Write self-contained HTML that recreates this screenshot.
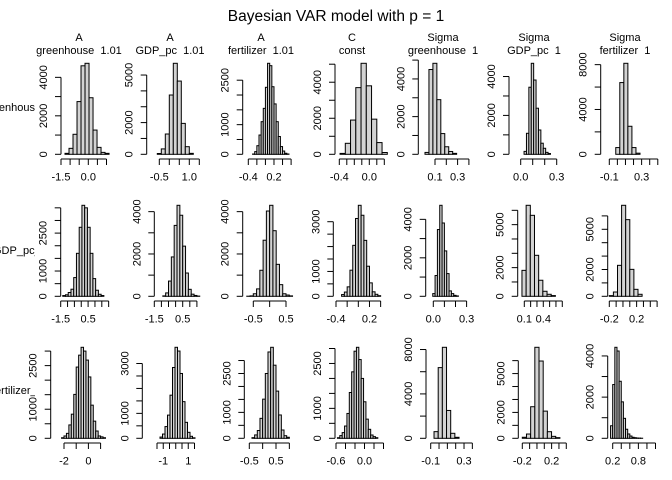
<!DOCTYPE html>
<html><head><meta charset="utf-8"><style>
html,body{margin:0;padding:0;background:#fff;}
svg{display:block;font-family:"Liberation Sans",Arial,sans-serif;}
</style></head><body>
<svg id="chart" width="672" height="480" viewBox="0 0 672 480" xmlns="http://www.w3.org/2000/svg">
<defs><clipPath id="rowclip"><rect x="0" y="0" width="35" height="480"/></clipPath></defs>
<text x="336" y="21" text-anchor="middle" font-size="15.5">Bayesian VAR model with p = 1</text>
<g id="titles"></g>
<g id="rowlabels" clip-path="url(#rowclip)"></g>
<g id="panels"></g>
</svg>
<script>
// ---- data ----
const colTitle1 = ["A","A","A","C","Sigma","Sigma","Sigma"];
const colTitle2 = ["greenhouse\u00a0 1.01","GDP_pc\u00a0 1.01","fertilizer\u00a0 1.01","const","greenhouse\u00a0 1","GDP_pc\u00a0 1","fertilizer\u00a0 1"];
const rowLabels = ["greenhouse","GDP_pc_","fertilizer_"];
const binStart = [-1.28,-0.6,-0.3,-0.39,0.0115,0.028,-0.02,
  -1.35,-0.9,-0.7,-0.3,-0.005,0.063,-0.2,
  -2.2,-1.26,-0.4,-0.57,-0.06,-0.2,0.15];
const binWidth = [0.22,0.2,0.05,0.07,0.035,0.02,0.05,
  0.2,0.2,0.1,0.05,0.021,0.066,0.06,
  0.2,0.2,0.1,0.05,0.05,0.057,0.05];
const counts = [
 [50,310,1040,2740,4600,4730,2940,1260,360,100,50],
 [50,340,1280,3740,5740,4620,1950,480,60],
 [10,90,290,650,1100,1550,2260,3070,2990,2280,1700,1100,600,260,110,35,10],
 [50,610,1900,3700,5050,3800,1950,650,100],
 [100,4500,4830,2900,1100,400,150,50],
 [150,1080,3450,4680,3820,2370,1250,570,310,100,40],
 [600,6400,8120,2500,600,100],
 [30,60,150,280,740,1700,2730,3600,3500,2730,1700,700,240,80,30],
 [20,160,720,1860,3350,4300,3830,2370,1100,330,100,40,10],
 [5,20,120,350,1230,2650,4030,4300,3100,1510,550,120,60,20],
 [70,170,380,1050,2050,3130,3660,3260,2250,1210,540,180,80,25],
 [140,1080,3470,4730,3810,2360,1180,280,140,50,20],
 [1810,6350,5650,2860,1120,350,140,50],
 [50,320,2310,6790,5720,2010,520,150],
 [20,80,170,460,830,1510,2450,2860,3130,3000,2690,2110,1140,590,250,80,50,20],
 [50,170,470,930,1730,2840,3650,3500,2600,1470,640,240,80,20],
 [25,130,300,770,1510,2500,3330,3510,2820,1820,900,320,100,40],
 [20,90,190,410,830,1530,2220,2910,3040,2630,2000,1220,640,300,110,55,20],
 [600,6370,8200,2510,450,90],
 [80,330,2440,7030,5970,2100,510,150,50],
 [610,2610,4420,4240,2770,1770,970,440,210,110,50,30,15,10,5]
];
const xTicks = [
 [-1.5,-1,-0.5,0,0.5,1],[-0.5,0,0.5,1,1.5],[-0.4,-0.2,0,0.2,0.4,0.6],[-0.4,-0.3,-0.2,-0.1,0,0.1,0.2],
 [0.1,0.2,0.3,0.4],[0,0.1,0.2,0.3],[-0.1,0,0.1,0.2,0.3,0.4,0.5],
 [-1.5,-1,-0.5,0,0.5,1,1.5,2],[-1.5,-1,-0.5,0,0.5,1,1.5],[-0.5,0,0.5],[-0.4,-0.2,0,0.2,0.4],
 [0,0.1,0.2,0.3],[0.1,0.2,0.3,0.4,0.5,0.6,0.7],[-0.2,-0.1,0,0.1,0.2,0.3,0.4,0.5],
 [-2,-1,0,1],[-1.5,-1,-0.5,0,0.5,1,1.5],[-0.5,0,0.5,1],[-0.6,-0.4,-0.2,0,0.2,0.4],
 [-0.1,0,0.1,0.2,0.3,0.4],[-0.2,-0.1,0,0.1,0.2,0.3,0.4],[0.2,0.4,0.6,0.8,1,1.2]
];
const xLabels = [
 ["-1.5","0.0"],["-0.5","1.0"],["-0.4","0.2"],["-0.4","0.0"],["0.1","0.3"],["0.0","0.3"],["-0.1","0.3"],
 ["-1.5","0.5"],["-1.5","0.5"],["-0.5","0.5"],["-0.4","0.2"],["0.0","0.3"],["0.1","0.4"],["-0.2","0.2"],
 ["-2","0"],["-1","1"],["-0.5","0.5"],["-0.6","0.0"],["-0.1","0.3"],["-0.2","0.2"],["0.2","0.8"]
];
const yTickStep = [1000,1000,500,1000,1000,1000,2000, 500,1000,1000,500,1000,1000,1000, 500,500,500,500,2000,1000,1000];
const yTickMax  = [4000,5000,2500,5000,5000,4000,8000, 3500,4000,4000,3000,4000,6000,6000, 3000,3000,3000,3000,8000,6000,4000];
const yLabels = [
 ["0","2000","4000"],["0","2000","5000"],["0","1000","2500"],["0","2000","4000"],["0","2000","4000"],["0","2000","4000"],["0","4000","8000"],
 ["0","1000","2500"],["0","2000","4000"],["0","2000","4000"],["0","1000","3000"],["0","2000","4000"],["0","2000","5000"],["0","2000","5000"],
 ["0","1000","2500"],["0","1000","3000"],["0","1000","2500"],["0","1000","2500"],["0","4000","8000"],["0","2000","5000"],["0","2000","4000"]
];
// ---- geometry (pixels, not data) ----
const axisX = [61,146.7,242.7,335,418.3,509,600.7, 60.7,154.3,242.7,333.3,425.7,517.7,607.7, 50.7,142.3,244.3,335,426,518.3,607.7];
const refVal = [-1.5,-0.5,-0.4,-0.4,0.1,0,-0.1, -1.5,-1.5,-0.5,-0.4,0,0.1,-0.2, -2,-1.5,-0.5,-0.6,-0.1,-0.2,0.2];
const refPx = [61,159.3,248.3,339.3,435,520.7,609.3, 60.7,154.3,253.3,336,433.3,524.3,609.3, 64,157,249.3,336,430.7,522.3,612.7];
const ppu = [18.2,20,42.8,75,113,120,80.8, 13.7,14.2,32.7,55.8,111,63.3,68.3, 12.2,12.5,26.7,47.5,83.3,73.3,42.8];
const baseY = [154.3,296.3,438.3];
const barH = 91;
const colCenter = [79,170,261,352,443,534,625];
const NS = "http://www.w3.org/2000/svg";
function mk(tag, attrs, parent){const e=document.createElementNS(NS,tag);for(const k in attrs)e.setAttribute(k,attrs[k]);parent.appendChild(e);return e;}
const tg=document.getElementById('titles');
colTitle1.forEach((t,i)=>{
  const a=mk('text',{x:colCenter[i],y:41,'text-anchor':'middle','font-size':11},tg);a.textContent=t;
  
  
  const b=mk('text',{x:colCenter[i],y:54,'text-anchor':'middle','font-size':11},tg);b.textContent=colTitle2[i];
  
  
});
const rg=document.getElementById('rowlabels');
const rowStartX=[-17,-7,-8];
const rowLabelY=[111,254,394];
rowLabels.forEach((t,i)=>{
  const e=mk('text',{x:rowStartX[i],y:rowLabelY[i],'font-size':11},rg);e.textContent=t;
  
  
});
const pg=document.getElementById('panels');
for(let p=0;p<21;p++){
  const r=Math.floor(p/7), base=baseY[r];
  const g=mk('g',{},pg);
  
  
  const xs=v=>refPx[p]+(v-refVal[p])*ppu[p];
  const mx=Math.max(...counts[p]);
  const ys=c=>base-c*barH/mx;
  counts[p].forEach((c,i)=>{
    const x0=xs(binStart[p]+i*binWidth[p]), x1=xs(binStart[p]+(i+1)*binWidth[p]);
    const b=mk('rect',{x:x0.toFixed(2),y:ys(c).toFixed(2),width:(x1-x0).toFixed(2),height:(base-ys(c)).toFixed(2),fill:'#d3d3d3',stroke:'#000','stroke-width':1},g);
    
    
  });
  const xt=xTicks[p], ay=base+4.7;
  const xa=mk('line',{x1:xs(xt[0]),x2:xs(xt[xt.length-1]),y1:ay,y2:ay,stroke:'#000'},g);
  
  
  xt.forEach(v=>{mk('line',{x1:xs(v),x2:xs(v),y1:ay,y2:ay+6,stroke:'#000'},g);});
  xLabels[p].forEach(s=>{
    const t=mk('text',{x:xs(parseFloat(s)),y:base+26,'text-anchor':'middle','font-size':11},g);t.textContent=s;
    
    
  });
  const L=axisX[p];
  const ya=mk('line',{x1:L,x2:L,y1:base,y2:ys(yTickMax[p]),stroke:'#000'},g);
  
  
  for(let v=0;v<=yTickMax[p]+1e-9;v+=yTickStep[p]){mk('line',{x1:L-6,x2:L,y1:ys(v),y2:ys(v),stroke:'#000'},g);}
  yLabels[p].forEach(s=>{
    const yy=ys(parseFloat(s)), xx=L-14;
    const t=mk('text',{x:xx,y:yy,'text-anchor':'middle','font-size':11,transform:'rotate(-90 '+xx+' '+yy+')'},g);t.textContent=s;
    
    
  });
}
</script>
</body></html>
